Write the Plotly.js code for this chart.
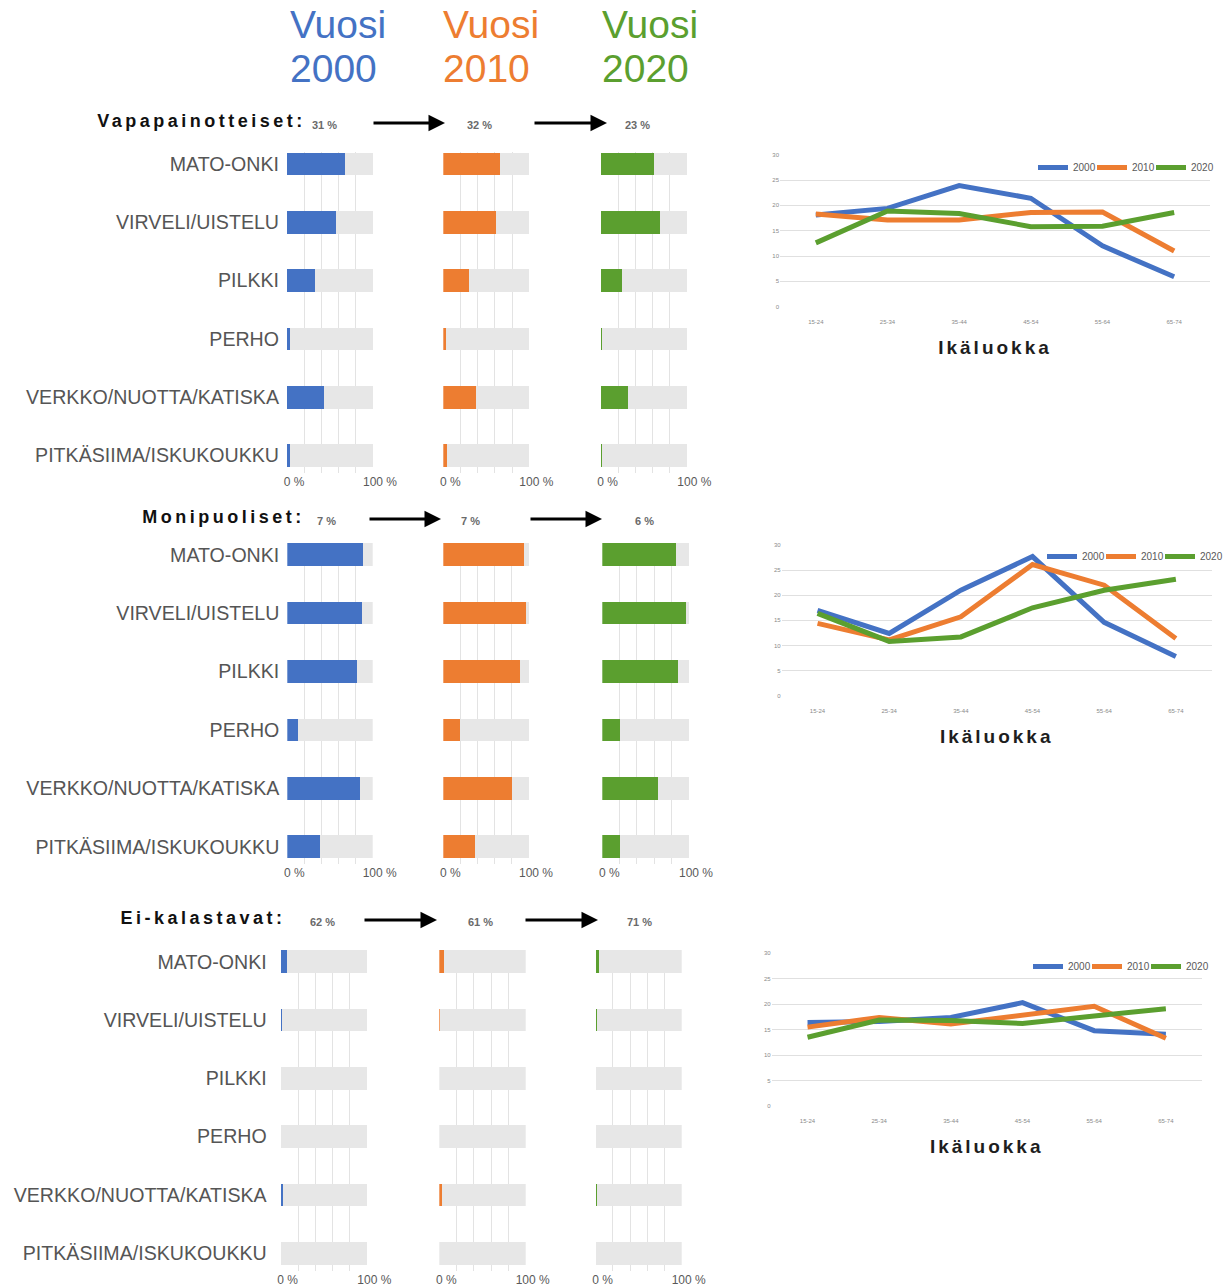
<!DOCTYPE html>
<html><head><meta charset="utf-8">
<script src="https://cdn.plot.ly/plotly-3.0.1.min.js"></script>
<style>
html,body{margin:0;padding:0;background:#fff;overflow:hidden}
.annotation[data-index="0"] .annotation-text,
.annotation[data-index="6"] .annotation-text,
.annotation[data-index="12"] .annotation-text{letter-spacing:3.5px}
.x4title,.x8title,.x12title{letter-spacing:3px}
.legend .scrollbox,.legend2 .scrollbox,.legend3 .scrollbox,.scrollbox{clip-path:none !important}
</style>
</head><body><div id="chart" style="width:1227px;height:1288px"></div>
<script>
// ---------- DATA ----------
const categories = ["MATO-ONKI","VIRVELI/UISTELU","PILKKI","PERHO","VERKKO/NUOTTA/KATISKA","PITKÄSIIMA/ISKUKOUKKU"];
const years = ["2000","2010","2020"];
const groupNames = ["Vapapainotteiset:","Monipuoliset:","Ei-kalastavat:"];
const groupShares = [["31 %","32 %","23 %"],["7 %","7 %","6 %"],["62 %","61 %","71 %"]];
const xTickLabels = ["0 %","","","","","100 %"];

const vapa2000 = [67,57,32,3,43,3];
const vapa2010 = [66,61,30,3,38,4];
const vapa2020 = [62,69,25,2,32,2];
const moni2000 = [89,87,82,12,85,38];
const moni2010 = [94,97,90,20,80,37];
const moni2020 = [85,96,87,20,64,20];
const ei2000 = [7,1,0,0,3,0];
const ei2010 = [6,1,0,0,3,0];
const ei2020 = [4,1,0,0,1,0];

const ageClasses = ["15-24","25-34","35-44","45-54","55-64","65-74"];
const vapaAge2000 = [18.1,19.4,23.9,21.4,12.0,5.9];
const vapaAge2010 = [18.3,17.1,17.1,18.6,18.7,11.0];
const vapaAge2020 = [12.6,18.9,18.4,15.8,15.9,18.6];
const moniAge2000 = [17.0,12.4,21.0,27.7,14.6,7.8];
const moniAge2010 = [14.4,11.1,15.7,26.1,22.0,11.4];
const moniAge2020 = [16.4,10.8,11.7,17.5,21.0,23.2];
const eiAge2000 = [16.4,16.6,17.4,20.3,14.8,14.1];
const eiAge2010 = [15.5,17.4,16.1,17.9,19.6,13.3];
const eiAge2020 = [13.5,16.9,16.8,16.2,17.7,19.1];

// ---------- LAYOUT HELPERS ----------
const W = 1227, H = 1288;
const px = x => x / W;
const py = y => 1 - y / H;
const colors = ["#4472c4","#ed7d31","#5b9f2f"];
const greyBar = "#e7e7e7";

const barData = [[vapa2000,vapa2010,vapa2020],[moni2000,moni2010,moni2020],[ei2000,ei2010,ei2020]];
const ageData = [[vapaAge2000,vapaAge2010,vapaAge2020],[moniAge2000,moniAge2010,moniAge2020],[eiAge2000,eiAge2010,eiAge2020]];

const sections = [
  {c0:164, sp:58.3, xs:[[287,373],[443.3,529.3],[600.7,687.3]], standoff:7,
   line:{x:[780,1210], y:[154.7,306.7], leg:[1033,153]},
   head:{nameC:201, y:121, shareX:[310,465,623], arrows:[[372,445],[533,607]]}},
  {c0:554.7, sp:58.4, xs:[[287.3,372.7],[443.3,529],[602.3,689]], standoff:7,
   line:{x:[781.7,1211.7], y:[545,695.7], leg:[1042,542]},
   head:{nameC:223, y:517, shareX:[315,459,633], arrows:[[368,441],[529,602]]}},
  {c0:961.7, sp:58.3, xs:[[280.7,367.3],[439.3,525.7],[595.7,681.7]], standoff:13,
   line:{x:[771.7,1201.7], y:[953.3,1106], leg:[1028,952]},
   head:{nameC:203, y:918, shareX:[308,466,625], arrows:[[363,437],[524,598]]}}
];

const traces = [];
const layout = {
  width: W, height: H,
  margin: {l:0, r:0, t:0, b:0, autoexpand:false},
  paper_bgcolor: "#fff", plot_bgcolor: "rgba(0,0,0,0)",
  font: {family: "Liberation Sans, Arial, sans-serif", color: "#404040"},
  barmode: "stack",
  showlegend: true,
  annotations: []
};

let k = 0;
sections.forEach((s, si) => {
  const top = s.c0 - 0.2 * s.sp;
  const bottom = s.c0 + 5.3 * s.sp;
  s.xs.forEach((xr, yi) => {
    k++;
    const xa = "x" + k, ya = "y" + k;
    const vals = barData[si][yi];
    traces.push({type:"bar", orientation:"h", y:categories, x:vals, width:0.39,
      marker:{color:colors[yi]}, xaxis:xa, yaxis:ya, showlegend:false, hoverinfo:"x+y"});
    traces.push({type:"bar", orientation:"h", y:categories, x:vals.map(v => 100 - v), width:0.39,
      marker:{color:greyBar}, xaxis:xa, yaxis:ya, showlegend:false, hoverinfo:"skip"});
    layout["xaxis" + k] = {domain:[px(xr[0]), px(xr[1])], anchor:ya, range:[0,100],
      tickvals:[0,20,40,60,80,100], ticktext:xTickLabels, showgrid:true, gridcolor:"#e3e3e3",
      zeroline:false, showline:false, ticks:"", tickfont:{size:12, color:"#595959"},
      ticklabelshift:7, fixedrange:true};
    layout["yaxis" + k] = {domain:[py(bottom), py(top)], anchor:xa, type:"category",
      range:[5.3, -0.2], showgrid:false, zeroline:false, showline:false, ticks:"",
      showticklabels: yi === 0, ticklabelstandoff: s.standoff,
      tickfont:{size:19.6, color:"#555555"}, fixedrange:true};
  });
  // line chart
  k++;
  const lx = "x" + k, ly = "y" + k;
  const legName = si === 0 ? "legend" : "legend" + (si + 1);
  ageData[si].forEach((arr, yi) => {
    traces.push({type:"scatter", mode:"lines", x:ageClasses, y:arr, name:years[yi],
      line:{color:colors[yi], width:5}, xaxis:lx, yaxis:ly, legend:legName});
  });
  layout["xaxis" + k] = {domain:[px(s.line.x[0]), px(s.line.x[1])], anchor:ly, type:"category",
    range:[-0.5,5.5], showgrid:false, zeroline:false, showline:false, ticks:"",
    tickfont:{size:6, color:"#8a8a8a"}, ticklabelstandoff:10,
    title:{text:"Ikäluokka", font:{family:"Liberation Sans, Arial, sans-serif", size:19, weight:"bold", color:"#1e1e1e"}, standoff:16},
    fixedrange:true};
  layout["yaxis" + k] = {domain:[py(s.line.y[1]), py(s.line.y[0])], anchor:lx, range:[0,30], dtick:5,
    showgrid:true, gridcolor:"#e0e0e0", zeroline:false, showline:false, ticks:"",
    tickfont:{size:6, color:"#8a8a8a"}, fixedrange:true};
  layout[legName] = {x:px(s.line.leg[0]), y:py(s.line.leg[1]), xanchor:"left", yanchor:"top",
    orientation:"h", traceorder:"normal", font:{size:10, color:"#595959"}, bgcolor:"rgba(0,0,0,0)",
    itemwidth:30, entrywidth:14, entrywidthmode:"pixels"};

  // headers
  const h = s.head;
  layout.annotations.push({xref:"paper", yref:"paper", x:px(h.nameC), y:py(h.y), xanchor:"center", yanchor:"middle",
    text:groupNames[si], showarrow:false,
    font:{family:"Liberation Sans, Arial, sans-serif", size:18, weight:"bold", color:"#111"}});
  h.shareX.forEach((sx, i) => {
    layout.annotations.push({xref:"paper", yref:"paper", x:px(sx), y:py(h.y + 4), xanchor:"left", yanchor:"middle",
      text:groupShares[si][i], showarrow:false,
      font:{size:11, weight:"bold", color:"#6a6a6a"}});
  });
  h.arrows.forEach(a => {
    layout.annotations.push({xref:"paper", yref:"paper", x:px(a[1]), y:py(h.y + 2), ax:-(a[1] - a[0]), ay:0,
      text:"", showarrow:true, arrowhead:2, arrowsize:1.1, arrowwidth:3, arrowcolor:"#000", standoff:0});
  });
});

// year headings
[288, 441, 600].forEach((hx, i) => {
  layout.annotations.push({xref:"paper", yref:"paper", x:px(hx), y:py(24), xanchor:"left", yanchor:"middle",
    text:"Vuosi", showarrow:false, font:{size:39, color:colors[i]}});
  layout.annotations.push({xref:"paper", yref:"paper", x:px(hx), y:py(68), xanchor:"left", yanchor:"middle",
    text:years[i], showarrow:false, font:{size:39, color:colors[i]}});
});

Plotly.newPlot("chart", traces, layout, {displayModeBar:false, staticPlot:true});
</script></body></html>
